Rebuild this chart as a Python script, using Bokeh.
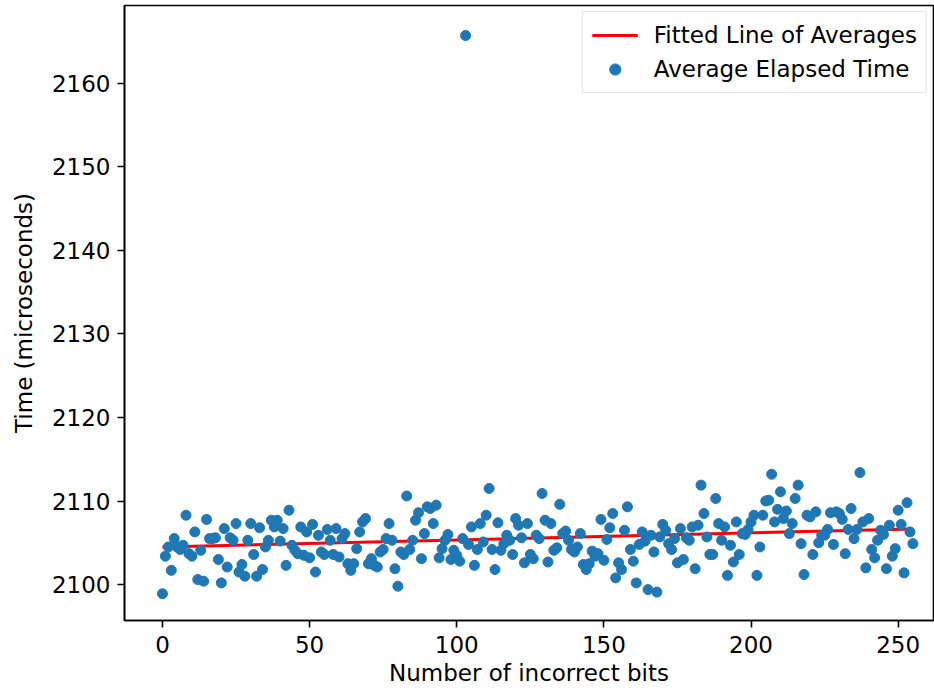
import numpy as np
from bokeh.plotting import figure
from bokeh.models import Range1d, FixedTicker, Legend
from bokeh.embed import file_html
from bokeh.resources import INLINE

# Number of incorrect bits (0..255)
bits = list(range(256))

# Average elapsed time (microseconds) per number of incorrect bits
avg_time = [
    2098.9, 2103.4, 2104.5, 2101.7, 2105.5, 2104.5, 2104.2, 2104.7, 2108.3, 2103.7,
    2103.4, 2106.3, 2100.6, 2104.1, 2100.4, 2107.8, 2105.5, 2105.5, 2105.6, 2103.0,
    2100.2, 2106.7, 2102.1, 2105.6, 2105.3, 2107.3, 2101.5, 2102.4, 2101.0, 2105.3,
    2107.3, 2103.6, 2101.0, 2106.8, 2101.8, 2104.5, 2105.3, 2107.7, 2106.9, 2107.7,
    2105.2, 2106.7, 2102.3, 2108.9, 2104.7, 2104.1, 2103.7, 2106.9, 2103.5, 2106.3,
    2103.2, 2107.2, 2101.5, 2105.9, 2103.9, 2103.6, 2106.6, 2105.3, 2103.6, 2106.7,
    2103.3, 2105.5, 2106.1, 2102.5, 2101.7, 2102.5, 2104.3, 2106.3, 2107.5, 2107.9,
    2102.5, 2103.1, 2102.3, 2102.1, 2103.9, 2104.2, 2105.5, 2107.3, 2105.3, 2101.9,
    2099.8, 2103.9, 2103.6, 2110.6, 2104.2, 2105.3, 2107.7, 2108.6, 2103.1, 2106.1,
    2109.3, 2109.1, 2107.3, 2109.5, 2103.2, 2104.3, 2105.3, 2106.0, 2103.0, 2104.1,
    2103.5, 2102.8, 2105.5, 2165.7, 2104.8, 2106.9, 2102.3, 2104.2, 2107.3, 2105.1,
    2108.3, 2111.5, 2104.2, 2101.8, 2107.4, 2104.1, 2104.9, 2105.9, 2105.3, 2103.6,
    2107.9, 2107.1, 2105.6, 2102.6, 2107.3, 2103.6, 2103.1, 2105.9, 2105.5, 2110.9,
    2107.7, 2102.7, 2107.3, 2104.1, 2104.4, 2109.6, 2106.1, 2106.4, 2105.3, 2104.2,
    2103.9, 2104.5, 2106.1, 2102.4, 2101.8, 2102.5, 2104.0, 2103.4, 2103.7, 2107.8,
    2102.9, 2105.4, 2106.8, 2108.5, 2100.8, 2102.6, 2101.8, 2106.5, 2109.3, 2104.2,
    2102.8, 2100.2, 2104.8, 2106.3, 2105.2, 2099.4, 2105.9, 2103.9, 2099.1, 2105.7,
    2107.2, 2106.5, 2104.9, 2104.2, 2105.5, 2102.6, 2106.7, 2103.0, 2105.6, 2105.3,
    2106.9, 2101.9, 2107.1, 2111.9, 2108.5, 2105.7, 2103.6, 2103.6, 2110.3, 2107.3,
    2105.3, 2106.9, 2101.1, 2104.7, 2102.7, 2107.5, 2103.6, 2106.1, 2106.0, 2106.6,
    2107.5, 2108.3, 2101.1, 2104.5, 2108.3, 2110.0, 2110.1, 2113.2, 2107.5, 2109.0,
    2111.1, 2107.9, 2108.8, 2106.1, 2107.3, 2110.3, 2111.9, 2104.9, 2101.2, 2108.3,
    2108.1, 2103.6, 2108.7, 2105.0, 2105.9, 2105.9, 2106.6, 2108.6, 2104.8, 2108.7,
    2108.5, 2107.8, 2103.7, 2106.6, 2109.1, 2105.5, 2106.6, 2113.4, 2107.5, 2102.0,
    2107.9, 2104.2, 2103.2, 2105.3, 2106.5, 2106.0, 2101.9, 2107.1, 2103.4, 2104.3,
    2108.9, 2107.2, 2101.4, 2109.8, 2106.3, 2104.9,
]

y_ticks = [2100, 2110, 2120, 2130, 2140, 2150, 2160]
x_ticks = [0, 50, 100, 150, 200, 250]

# Least-squares fitted line of the averages
slope, intercept = np.polyfit(bits, avg_time, 1)
fit_x = [bits[0], bits[-1]]
fit_y = [intercept + slope * v for v in fit_x]

FONT = "DejaVu Sans"
FS = "23px"

p = figure(width=934, height=692, output_backend="svg", toolbar_location=None,
           x_range=Range1d(-12.9, 262), y_range=Range1d(2095.7, 2169.3),
           min_border_left=124, min_border_right=1, min_border_top=5,
           min_border_bottom=72)
p.background_fill_color = "white"
p.border_fill_color = "white"
p.outline_line_color = "black"
p.outline_line_width = 1.6
p.xgrid.visible = False
p.ygrid.visible = False

line_r = p.line(fit_x, fit_y, line_color="red", line_width=3)
pts_r = p.scatter(bits, avg_time, size=10, fill_color="#1f77b4",
                  line_color="#1f77b4")

for ax in (p.xaxis[0], p.yaxis[0]):
    ax.axis_line_color = "black"
    ax.axis_line_width = 1.6
    ax.major_tick_line_color = "black"
    ax.major_tick_line_width = 1.6
    ax.major_tick_out = 7
    ax.major_tick_in = 0
    ax.minor_tick_line_color = None
    ax.major_label_text_font = FONT
    ax.major_label_text_font_size = FS
    ax.major_label_text_color = "black"
    ax.axis_label_text_font = FONT
    ax.axis_label_text_font_size = FS
    ax.axis_label_text_font_style = "normal"
    ax.axis_label_text_color = "black"

p.xaxis.ticker = FixedTicker(ticks=x_ticks)
p.yaxis.ticker = FixedTicker(ticks=y_ticks)
p.xaxis.axis_label = "Number of incorrect bits"
p.yaxis.axis_label = "Time (microseconds)"
p.xaxis.major_label_standoff = 8
p.yaxis.major_label_standoff = 7
p.xaxis.axis_label_standoff = 4
p.yaxis.axis_label_standoff = 12

legend = Legend(items=[("Fitted Line of Averages", [line_r]),
                       ("Average Elapsed Time", [pts_r])],
                location="top_right")
legend.label_text_font = FONT
legend.label_text_font_size = FS
legend.label_text_color = "black"
legend.glyph_width = 46
legend.glyph_height = 28
legend.label_height = 28
legend.label_standoff = 16
legend.spacing = 6
legend.padding = 9
legend.margin = 6
legend.border_line_color = "#cccccc"
legend.border_line_width = 1.5
legend.background_fill_alpha = 0.9
p.add_layout(legend)

open("out.html", "w").write(file_html(p, INLINE))
